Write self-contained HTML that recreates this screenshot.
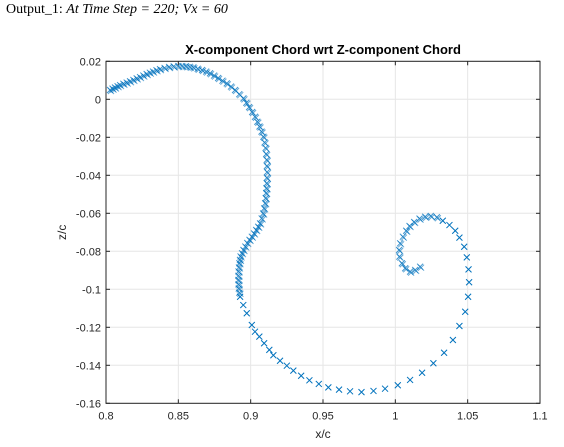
<!DOCTYPE html>
<html><head><meta charset="utf-8"><style>
body{margin:0;background:#fff;width:564px;height:447px;overflow:hidden}
#hdr{position:absolute;left:6px;top:2px;font:14px "Liberation Serif",serif;color:#000}
</style></head><body>
<div id="hdr">Output_1: <i>At Time Step = 220; Vx = 60</i></div>
<svg id="chart" width="564" height="447" style="position:absolute;left:0;top:0"></svg>
<script>
const xTicks=[0.8,0.85,0.9,0.95,1,1.05,1.1];
const xTickLabels=["0.8","0.85","0.9","0.95","1","1.05","1.1"];
const yTicks=[0.02,0,-0.02,-0.04,-0.06,-0.08,-0.1,-0.12,-0.14,-0.16];
const yTickLabels=["0.02","0","-0.02","-0.04","-0.06","-0.08","-0.1","-0.12","-0.14","-0.16"];
const xData=[0.8028,0.8045,0.8062,0.8080,0.8097,0.8120,0.8143,0.8166,0.8189,0.8212,0.8235,0.8258,0.8281,0.8303,0.8325,0.8349,0.8373,0.8405,0.8436,0.8468,0.85,0.8527,0.8553,0.8579,0.8604,0.8634,0.8664,0.8692,0.8719,0.8747,0.8775,0.8805,0.8835,0.8864,0.8892,0.8921,0.895,0.8970,0.8989,0.9010,0.903,0.9046,0.9061,0.9075,0.9088,0.9096,0.9103,0.9107,0.9111,0.9112,0.9113,0.9112,0.9111,0.9109,0.9107,0.9104,0.91,0.9093,0.9086,0.9076,0.9065,0.9052,0.9038,0.9023,0.9008,0.8992,0.8976,0.8963,0.895,0.894,0.893,0.8926,0.8922,0.8919,0.8916,0.8915,0.8915,0.8916,0.8918,0.8922,
0.8927,0.8949,0.8973,0.9008,0.903,0.906,0.9093,0.9129,0.9157,0.9203,0.925,0.9295,0.9349,0.9406,0.9471,0.9537,0.9611,0.9687,0.9766,0.9849,0.9929,1.0017,1.0102,1.0185,1.0263,1.0337,1.0398,1.0443,1.0483,1.0503,1.051,1.0506,1.0494,1.0476,1.0443,1.0414,1.0374,1.0328,1.0287,1.0245,1.0206,1.0167,1.013,1.0098,1.0075,1.0052,1.0033,1.0026,1.0028,1.0045,1.0068,1.0102,1.0137,1.0171];
const zData=[0.0049,0.0056,0.0062,0.0069,0.0075,0.0082,0.0088,0.0095,0.0102,0.0110,0.0117,0.0125,0.0133,0.0140,0.0146,0.0153,0.0159,0.0165,0.017,0.0173,0.0175,0.0175,0.0174,0.0171,0.0168,0.0161,0.0154,0.0146,0.0137,0.0125,0.0112,0.0098,0.0084,0.0067,0.0049,0.0027,0.0005,-0.0018,-0.0041,-0.0067,-0.0092,-0.0118,-0.0143,-0.0170,-0.0197,-0.0227,-0.0256,-0.0288,-0.0319,-0.0351,-0.0383,-0.0413,-0.0442,-0.0468,-0.0493,-0.0520,-0.0547,-0.0574,-0.0601,-0.0627,-0.0653,-0.0671,-0.0688,-0.0706,-0.0723,-0.0740,-0.0756,-0.0775,-0.0793,-0.0810,-0.0827,-0.0845,-0.0863,-0.0885,-0.0906,-0.0929,-0.0951,-0.0974,-0.0996,-0.1018,
-0.1039,-0.1083,-0.1126,-0.1188,-0.1223,-0.1249,-0.1284,-0.1319,-0.1347,-0.1376,-0.1402,-0.1428,-0.1455,-0.1479,-0.1498,-0.1516,-0.1528,-0.1537,-0.1541,-0.1535,-0.1523,-0.1505,-0.1477,-0.1439,-0.1389,-0.1334,-0.1267,-0.1193,-0.1118,-0.1039,-0.0963,-0.0895,-0.0832,-0.0776,-0.0728,-0.0692,-0.0662,-0.0639,-0.0621,-0.0614,-0.0618,-0.0628,-0.0646,-0.0667,-0.0692,-0.0723,-0.0758,-0.0793,-0.0828,-0.0863,-0.0889,-0.0907,-0.0898,-0.0881];
const denseCount=80;

const L=106,R=540,T=61.3,B=403.3;
const xMin=0.8,xMax=1.1,yMin=-0.16,yMax=0.02;
const sx=v=>L+(v-xMin)/(xMax-xMin)*(R-L);
const sy=v=>B-(v-yMin)/(yMax-yMin)*(B-T);
const svg=document.getElementById('chart');
const NS='http://www.w3.org/2000/svg';
function mk(tag,at,parent){const e=document.createElementNS(NS,tag);for(const k in at)e.setAttribute(k,at[k]);(parent||svg).appendChild(e);return e;}
const grid=mk('g',{});


xTicks.forEach(t=>{mk('line',{x1:sx(t),x2:sx(t),y1:T,y2:B,stroke:'#e6e6e6','stroke-width':1},grid);});
yTicks.forEach(t=>{mk('line',{x1:L,x2:R,y1:sy(t),y2:sy(t),stroke:'#e6e6e6','stroke-width':1},grid);});
const box=mk('rect',{x:L,y:T,width:R-L,height:B-T,fill:'none',stroke:'#262626','stroke-width':1});


const xa=mk('g',{});


xTicks.forEach((t,i)=>{
 mk('line',{x1:sx(t),x2:sx(t),y1:B,y2:B-4,stroke:'#262626'},xa);
 mk('line',{x1:sx(t),x2:sx(t),y1:T,y2:T+4,stroke:'#262626'},xa);
 const tx=mk('text',{x:sx(t),y:B+16,'text-anchor':'middle','font-family':'Liberation Sans, sans-serif','font-size':11,fill:'#262626'},xa);
 tx.textContent=xTickLabels[i];
 
 
});
const ya=mk('g',{});


yTicks.forEach((t,i)=>{
 mk('line',{x1:L,x2:L+4,y1:sy(t),y2:sy(t),stroke:'#262626'},ya);
 mk('line',{x1:R,x2:R-4,y1:sy(t),y2:sy(t),stroke:'#262626'},ya);
 const tx=mk('text',{x:L-5,y:sy(t)+4,'text-anchor':'end','font-family':'Liberation Sans, sans-serif','font-size':11,fill:'#262626'},ya);
 tx.textContent=yTickLabels[i];
 
 
});
const title=mk('text',{x:(L+R)/2,y:54,'text-anchor':'middle','font-family':'Liberation Sans, sans-serif','font-size':13,'font-weight':'bold',fill:'#000'});
title.textContent='X-component Chord wrt Z-component Chord';


const xl=mk('text',{x:(L+R)/2,y:438,'text-anchor':'middle','font-family':'Liberation Sans, sans-serif','font-size':12,fill:'#262626'});
xl.textContent='x/c';


const yl=mk('text',{x:0,y:0,transform:`translate(66,${(T+B)/2}) rotate(-90)`,'text-anchor':'middle','font-family':'Liberation Sans, sans-serif','font-size':12,fill:'#262626'});
yl.textContent='z/c';


const series=mk('g',{stroke:'#0072bd','stroke-width':1,fill:'none'});


xData.forEach((v,i)=>{
 const cx=sx(v),cy=sy(zData[i]),s=3;
 const dense=i<denseCount||i>=xData.length-16;
 const p=mk('path',{d:`M${cx-s},${cy-s}L${cx+s},${cy+s}M${cx-s},${cy+s}L${cx+s},${cy-s}`,'stroke-opacity':dense?0.75:1},series);
 
 
 if(dense){
  const q=mk('path',{d:`M${cx-s+1},${cy-s+1}L${cx+s+1},${cy+s+1}M${cx-s+1},${cy+s+1}L${cx+s+1},${cy-s+1}`,'stroke-opacity':0.6},series);
  
  
 }
});
</script>
</body></html>
